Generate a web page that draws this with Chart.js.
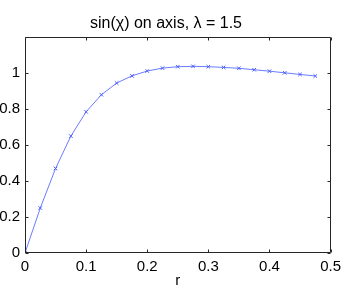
<!DOCTYPE html>
<html>
<head>
<meta charset="utf-8">
<script src="https://cdn.jsdelivr.net/npm/chart.js@4/dist/chart.umd.min.js"></script>
<style>
html,body{margin:0;padding:0;background:#fff;}
#wrap{width:346px;height:290px;}
</style>
</head>
<body>
<div id="wrap"><canvas id="c" width="346" height="290"></canvas></div>
<script>
const chartTitle = 'sin(\u03C7) on axis, \u03BB = 1.5';
const xLabel = 'r';
const rValues = [0, 0.025, 0.05, 0.075, 0.1, 0.125, 0.15, 0.175, 0.2, 0.225, 0.25, 0.275, 0.3, 0.325, 0.35, 0.375, 0.4, 0.425, 0.45, 0.475];
const sinChi = [0, 0.25, 0.47, 0.65, 0.785, 0.88, 0.945, 0.985, 1.012, 1.028, 1.036, 1.038, 1.036, 1.032, 1.027, 1.019, 1.011, 1.002, 0.993, 0.984];
const xTicks = [0, 0.1, 0.2, 0.3, 0.4, 0.5];
const yTicks = [0, 0.2, 0.4, 0.6, 0.8, 1];

const axisColor = '#262626';
const fam = '"Liberation Sans", Arial, Helvetica, sans-serif';
const font = {family: fam, size: 15};

const boxPlugin = {
  id: 'box',
  afterDraw(chart) {
    const ctx = chart.ctx;
    const a = chart.chartArea;
    const xs = chart.scales.x, ys = chart.scales.y;
    ctx.save();
    ctx.strokeStyle = axisColor;
    ctx.lineWidth = 1;
    ctx.beginPath();
    const L = Math.round(a.left) + 0.5, R = Math.round(a.right) - 0.5;
    const T = Math.round(a.top) + 0.5, B = Math.round(a.bottom) - 0.5;
    ctx.rect(L, T, R - L, B - T);
    const tl = 3;
    xTicks.forEach(v => {
      const px = Math.round(xs.getPixelForValue(v)) + 0.5;
      ctx.moveTo(px, B); ctx.lineTo(px, B - tl);
      ctx.moveTo(px, T); ctx.lineTo(px, T + tl);
    });
    yTicks.forEach(v => {
      const py = Math.round(ys.getPixelForValue(v)) + 0.5;
      ctx.moveTo(L, py); ctx.lineTo(L + tl, py);
      ctx.moveTo(R, py); ctx.lineTo(R - tl, py);
    });
    ctx.stroke();
    ctx.restore();
  }
};

new Chart(document.getElementById('c'), {
  type: 'scatter',
  data: {
    datasets: [{
      data: rValues.map((r, i) => ({x: r, y: sinChi[i]})),
      showLine: true,
      borderColor: '#6a7cff',
      backgroundColor: '#6a7cff',
      borderWidth: 1,
      pointStyle: 'crossRot',
      pointRadius: 2.5,
      pointBorderWidth: 1,
      pointBorderColor: '#4a5cff',
      tension: 0
    }]
  },
  options: {
    responsive: false,
    animation: false,
    devicePixelRatio: 1,
    layout: {padding: {left: 0, right: 14, top: 0, bottom: 0}},
    plugins: {
      legend: {display: false},
      tooltip: {enabled: false},
      title: {
        display: true,
        text: chartTitle,
        color: '#000',
        font: {family: fam, size: 16, weight: 'normal'},
        padding: {top: 14, bottom: 4}
      }
    },
    scales: {
      x: {
        type: 'linear',
        min: 0, max: 0.5,
        afterBuildTicks(s) { s.ticks = xTicks.map(v => ({value: v})); },
        afterFit(s) { s.height = 37; },
        ticks: {
          color: '#000', font: font, padding: 5, maxRotation: 0,
          callback: v => String(Math.round(v * 10) / 10)
        },
        grid: {display: true, drawOnChartArea: false, drawTicks: false},
        border: {display: false},
        title: {display: true, text: xLabel, color: '#000', font: font, padding: {top: 0, bottom: 0}}
      },
      y: {
        type: 'linear',
        min: 0, max: 1.2,
        afterBuildTicks(s) { s.ticks = yTicks.map(v => ({value: v})); },
        afterFit(s) { s.width = 25; },
        ticks: {
          color: '#000', font: font, padding: 5,
          callback: v => String(Math.round(v * 10) / 10)
        },
        grid: {display: true, drawOnChartArea: false, drawTicks: false},
        border: {display: false}
      }
    }
  },
  plugins: [boxPlugin]
});
</script>
</body>
</html>
